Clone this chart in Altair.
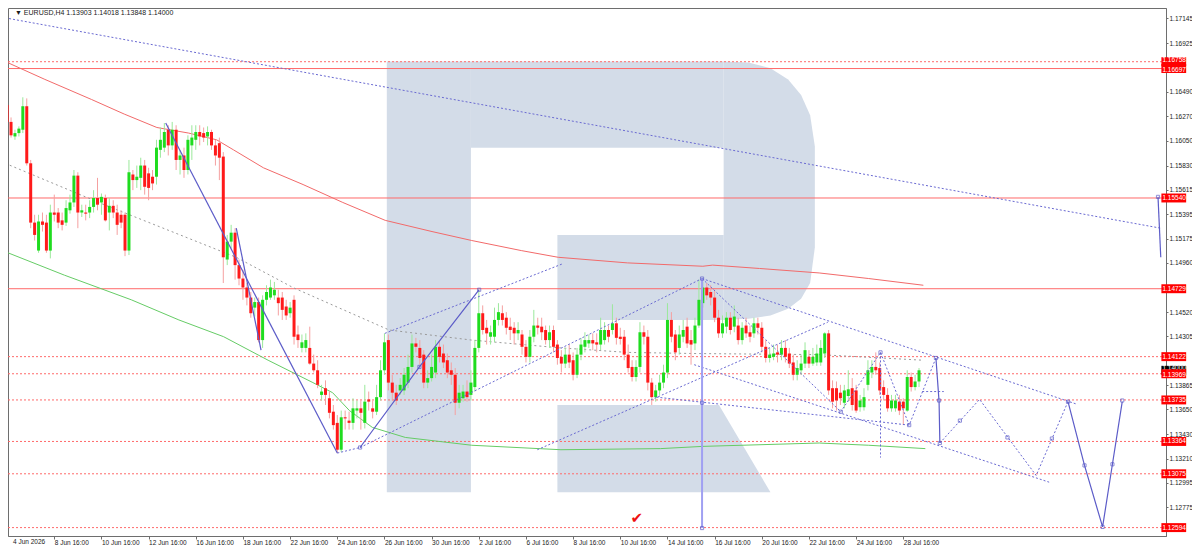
import json
import altair as alt
import pandas as pd

# header line and axis texts
HEADER = "\u25bc EURUSD,H4  1.13903 1.14018 1.13848 1.14000"
TIME_LABELS = ["4 Jun 2026", "8 Jun 16:00", "10 Jun 16:00", "12 Jun 16:00", "16 Jun 16:00",
               "18 Jun 16:00", "22 Jun 16:00", "24 Jun 16:00", "26 Jun 16:00", "30 Jun 16:00",
               "2 Jul 16:00", "6 Jul 16:00", "8 Jul 16:00", "10 Jul 16:00", "14 Jul 16:00",
               "16 Jul 16:00", "20 Jul 16:00", "22 Jul 16:00", "24 Jul 16:00", "28 Jul 16:00"]
PRICE_TICKS = [1.17145, 1.16925, 1.16490, 1.16270, 1.16050, 1.15830, 1.15615,
               1.15395, 1.15175, 1.14960, 1.14520, 1.14305, 1.13865,
               1.13650, 1.13430, 1.13210, 1.12995, 1.12775]

# H4 candles, prices in pips (1 pip = 0.0001)
OPEN_PIPS = [11637, 11622, 11609, 11612, 11615, 11636, 11585, 11532, 11507, 11533,
             11532, 11507, 11541, 11541, 11534, 11532, 11543, 11550, 11574, 11541,
             11541, 11541, 11546, 11554, 11550, 11554, 11541, 11547, 11541, 11539,
             11539, 11507, 11575, 11570, 11572, 11583, 11576, 11573, 11573, 11597,
             11599, 11615, 11601, 11615, 11588, 11592, 11579, 11601, 11606, 11613,
             11612, 11609, 11613, 11601, 11603, 11591, 11499, 11515, 11523, 11494,
             11482, 11474, 11465, 11456, 11461, 11427, 11463, 11465, 11467, 11465,
             11465, 11457, 11451, 11463, 11432, 11420, 11420, 11420, 11406, 11400,
             11378, 11384, 11375, 11363, 11353, 11329, 11358, 11355, 11353, 11364,
             11366, 11353, 11374, 11366, 11363, 11376, 11400, 11427, 11389, 11380,
             11382, 11382, 11389, 11403, 11424, 11420, 11414, 11389, 11393, 11398,
             11421, 11415, 11409, 11400, 11396, 11371, 11375, 11381, 11378, 11385,
             11420, 11451, 11438, 11430, 11430, 11445, 11451, 11447, 11439, 11438,
             11433, 11432, 11421, 11412, 11430, 11440, 11439, 11436, 11427, 11436,
             11423, 11412, 11406, 11414, 11409, 11396, 11414, 11421, 11424, 11427,
             11425, 11423, 11427, 11436, 11436, 11442, 11430, 11430, 11414, 11403,
             11394, 11403, 11434, 11430, 11389, 11376, 11382, 11389, 11398, 11445,
             11432, 11420, 11430, 11439, 11427, 11424, 11440, 11460, 11474, 11470,
             11465, 11447, 11433, 11439, 11447, 11439, 11440, 11427, 11440, 11434,
             11433, 11442, 11438, 11421, 11411, 11412, 11416, 11414, 11420, 11415,
             11407, 11396, 11400, 11406, 11412, 11406, 11407, 11407, 11415, 11433,
             11384, 11384, 11380, 11371, 11377, 11384, 11382, 11367, 11367, 11387,
             11398, 11403, 11402, 11385, 11378, 11366, 11366, 11372, 11372, 11364,
             11394, 11385, 11390]
HIGH_PIPS = [11642, 11626, 11615, 11618, 11644, 11643, 11588, 11539, 11539, 11541,
             11539, 11548, 11557, 11545, 11541, 11552, 11557, 11579, 11577, 11548,
             11548, 11552, 11561, 11572, 11558, 11557, 11554, 11552, 11548, 11543,
             11541, 11588, 11579, 11583, 11590, 11588, 11581, 11579, 11606, 11617,
             11621, 11619, 11622, 11619, 11597, 11599, 11610, 11619, 11619, 11619,
             11617, 11618, 11615, 11606, 11608, 11595, 11521, 11530, 11527, 11499,
             11490, 11478, 11470, 11465, 11465, 11467, 11476, 11481, 11479, 11472,
             11470, 11463, 11461, 11467, 11440, 11432, 11433, 11439, 11414, 11409,
             11387, 11391, 11381, 11369, 11360, 11364, 11364, 11363, 11375, 11373,
             11373, 11387, 11381, 11373, 11387, 11409, 11433, 11432, 11396, 11387,
             11393, 11402, 11414, 11432, 11429, 11427, 11418, 11400, 11414, 11427,
             11427, 11423, 11415, 11407, 11402, 11387, 11387, 11391, 11400, 11427,
             11472, 11458, 11445, 11440, 11456, 11460, 11458, 11452, 11447, 11443,
             11443, 11436, 11427, 11436, 11454, 11447, 11447, 11440, 11440, 11440,
             11427, 11418, 11420, 11423, 11416, 11420, 11429, 11434, 11432, 11433,
             11433, 11447, 11443, 11440, 11459, 11447, 11438, 11436, 11423, 11409,
             11409, 11443, 11440, 11436, 11393, 11387, 11396, 11405, 11460, 11452,
             11436, 11440, 11445, 11447, 11436, 11447, 11481, 11479, 11478, 11476,
             11472, 11454, 11449, 11452, 11452, 11458, 11447, 11443, 11447, 11440,
             11447, 11447, 11443, 11427, 11420, 11423, 11423, 11427, 11427, 11420,
             11414, 11409, 11414, 11425, 11418, 11420, 11423, 11427, 11434, 11436,
             11391, 11390, 11387, 11387, 11400, 11393, 11387, 11378, 11384, 11409,
             11409, 11416, 11407, 11391, 11384, 11378, 11378, 11378, 11375, 11400,
             11398, 11396, 11402]
LOW_PIPS = [11619, 11608, 11606, 11609, 11612, 11583, 11527, 11516, 11505, 11524,
            11505, 11500, 11533, 11527, 11525, 11529, 11540, 11546, 11527, 11537,
            11534, 11536, 11541, 11543, 11539, 11533, 11525, 11536, 11521, 11527,
            11502, 11503, 11561, 11563, 11561, 11557, 11552, 11561, 11566, 11590,
            11595, 11592, 11597, 11579, 11575, 11572, 11575, 11588, 11597, 11601,
            11604, 11601, 11597, 11583, 11570, 11478, 11494, 11509, 11481, 11476,
            11463, 11458, 11447, 11448, 11425, 11420, 11458, 11463, 11463, 11449,
            11445, 11445, 11447, 11423, 11420, 11416, 11416, 11405, 11398, 11384,
            11373, 11369, 11357, 11347, 11326, 11327, 11347, 11347, 11347, 11357,
            11347, 11348, 11364, 11357, 11360, 11373, 11396, 11382, 11373, 11369,
            11378, 11378, 11384, 11398, 11416, 11405, 11384, 11384, 11390, 11393,
            11407, 11402, 11393, 11387, 11360, 11366, 11372, 11372, 11373, 11381,
            11416, 11432, 11423, 11423, 11425, 11440, 11440, 11432, 11427, 11423,
            11427, 11414, 11407, 11407, 11425, 11432, 11427, 11423, 11420, 11416,
            11405, 11398, 11402, 11402, 11391, 11393, 11409, 11416, 11420, 11418,
            11416, 11418, 11423, 11425, 11432, 11423, 11423, 11409, 11398, 11390,
            11390, 11398, 11423, 11382, 11369, 11372, 11378, 11384, 11393, 11425,
            11409, 11414, 11425, 11420, 11405, 11418, 11438, 11456, 11463, 11458,
            11443, 11429, 11429, 11433, 11432, 11434, 11423, 11423, 11429, 11425,
            11429, 11432, 11416, 11407, 11407, 11409, 11407, 11409, 11407, 11402,
            11391, 11391, 11396, 11402, 11402, 11404, 11404, 11404, 11411, 11378,
            11366, 11364, 11369, 11366, 11372, 11364, 11362, 11363, 11364, 11382,
            11393, 11396, 11378, 11373, 11363, 11363, 11363, 11360, 11351, 11363,
            11381, 11382, 11385]
CLOSE_PIPS = [11622, 11610, 11612, 11616, 11636, 11585, 11532, 11521, 11533, 11530,
              11507, 11541, 11539, 11532, 11530, 11545, 11550, 11574, 11541, 11543,
              11540, 11546, 11554, 11548, 11555, 11534, 11547, 11541, 11530, 11532,
              11507, 11577, 11570, 11573, 11583, 11564, 11563, 11567, 11599, 11606,
              11613, 11601, 11615, 11588, 11592, 11579, 11606, 11608, 11613, 11609,
              11608, 11613, 11601, 11592, 11590, 11501, 11515, 11523, 11494, 11482,
              11474, 11465, 11451, 11461, 11427, 11463, 11470, 11474, 11472, 11460,
              11454, 11449, 11456, 11430, 11427, 11425, 11427, 11406, 11400, 11387,
              11381, 11378, 11362, 11351, 11329, 11358, 11357, 11353, 11366, 11366,
              11362, 11372, 11372, 11363, 11376, 11400, 11425, 11389, 11380, 11373,
              11387, 11396, 11403, 11424, 11421, 11411, 11389, 11393, 11403, 11421,
              11412, 11407, 11398, 11396, 11371, 11380, 11381, 11376, 11389, 11420,
              11451, 11436, 11433, 11434, 11445, 11452, 11445, 11438, 11436, 11433,
              11436, 11421, 11412, 11430, 11440, 11438, 11434, 11427, 11434, 11421,
              11411, 11406, 11414, 11407, 11396, 11414, 11423, 11427, 11427, 11424,
              11423, 11436, 11436, 11430, 11442, 11429, 11428, 11414, 11402, 11394,
              11403, 11434, 11430, 11389, 11376, 11382, 11389, 11398, 11445, 11430,
              11416, 11432, 11436, 11424, 11423, 11440, 11463, 11474, 11467, 11465,
              11447, 11433, 11442, 11447, 11436, 11448, 11427, 11438, 11433, 11430,
              11442, 11438, 11421, 11411, 11414, 11415, 11414, 11420, 11412, 11406,
              11396, 11402, 11406, 11418, 11406, 11412, 11415, 11420, 11433, 11382,
              11372, 11373, 11375, 11382, 11383, 11369, 11364, 11373, 11376, 11400,
              11403, 11400, 11382, 11378, 11366, 11373, 11373, 11364, 11366, 11394,
              11385, 11390, 11400]

# horizontal levels
SOLID_LEVELS = [1.16697, 1.15540, 1.14729]
DOTTED_LEVELS = [1.16758, 1.14122, 1.13969, 1.13735, 1.13364, 1.13075, 1.12594]
LAST_PRICE = 1.14000

# moving averages (bar index, pips)
MA_RED_BAR = [-0.5, 9.6, 21.5, 29.8, 38.1, 46.2, 53.3, 57.6, 65.2, 75.3, 85.4, 96.2,
              108.1, 118.2, 130.8, 140.2, 157.8, 177, 179.5, 191.4, 206.6, 219.2, 233.1]
MA_RED_PIPS = [11676, 11660, 11642, 11629, 11617, 11612, 11606, 11597, 11581, 11566, 11550,
               11534, 11524, 11516, 11507, 11501, 11496, 11493, 11494, 11491, 11487, 11482, 11476]
MA_GREEN_BAR = [-0.5, 14.6, 31.6, 43.7, 55.1, 66.4, 77.8, 82.8, 87.1, 92.9, 101.3, 118.2,
                140.9, 166.2, 177, 206.6, 219.2, 233.6]
MA_GREEN_PIPS = [11506, 11485, 11463, 11445, 11430, 11409, 11389, 11380, 11364, 11349, 11340,
                 11333, 11329, 11330, 11332, 11335, 11333, 11330]
MA_GREY_BAR = [-0.5, 24.7, 58.3, 72.7, 97.2, 118.2, 140.9, 157.8, 174.5, 206.6, 233.1]
MA_GREY_PIPS = [11585, 11548, 11501, 11474, 11436, 11427, 11420, 11416, 11415, 11414, 11409]

# wave drawings: lists of (bar, pips)
WAVE_SOLID = [
    [(40.35, 11621), (84.0, 11326)],
    [(58.3, 11527), (64.6, 11418)],
    [(89.8, 11331), (104.9, 11403), (120.1, 11472)],
    [(236.3, 11411), (237.1, 11372), (237.3, 11335)],
    [(269.9, 11372), (274.1, 11315), (278.7, 11260), (281.2, 11316), (283.7, 11372)],
    [(292.8, 11555), (293.5, 11501)],
]
WAVE_VERTICAL = [(176.8, 11482), (176.8, 11259)]
WAVE_DOTTED = [
    [(-0.5, 11715), (293.5, 11527)],
    [(84.0, 11326), (89.8, 11331)],
    [(96.1, 11433), (141.2, 11495)],
    [(89.8, 11331), (176.8, 11482)],
    [(134.9, 11329), (208.8, 11443)],
    [(176.8, 11482), (271.9, 11370)],
    [(176.8, 11482), (212.1, 11363), (222.2, 11416), (229.5, 11351), (236.3, 11411)],
    [(174.8, 11405), (265.1, 11300)],
    [(165.2, 11376), (229.5, 11351)],
    [(222.2, 11416), (222.2, 11322)],
    [(232.8, 11381), (238.3, 11381)],
    [(237.3, 11335), (247.4, 11374), (261.8, 11306), (269.9, 11372)],
]
MARKER_BAR = [89.8, 104.9, 120.1, 176.8, 176.8, 176.8, 212.1, 222.2, 229.5, 236.3, 237.1,
              237.3, 242.4, 254.5, 265.8, 269.9, 274.1, 278.7, 281.2, 283.7, 292.8]
MARKER_PIPS = [11331, 11403, 11472, 11482, 11371, 11259, 11363, 11416, 11351, 11411, 11373,
               11335, 11355, 11340, 11339, 11372, 11315, 11260, 11316, 11373, 11555]

# watermark "R" (bar index, pips)
LOGO_RECTS = [(96.6, 118.0, 11676, 11291), (118.0, 182.3, 11676, 11599),
              (140.0, 182.3, 11521, 11445)]
LOGO_BOWL_BAR = [182.3, 188.6, 194.2, 198.7, 202.0, 204.3, 205.5]
LOGO_BOWL_TOP = [11676, 11675, 11670, 11660, 11646, 11628, 11600]
LOGO_BOWL_BOT = [11445, 11446, 11449, 11455, 11464, 11478, 11510]
LOGO_LEG_BAR = [140.0, 181.1, 194.2]
LOGO_LEG_TOP = [11369, 11369, 11291]
LOGO_LEG_BOT = [11291, 11291, 11291]

CHECK_MARK = (160.2, 11268)

W, H = 1158, 528
FONT = "Liberation Sans"
X_LO, X_HI = 1.5, 293.56
Y_LO, Y_HI = 1.12519, 1.17238
XS = alt.Scale(domain=[X_LO, X_HI], nice=False, zero=False)
YS = alt.Scale(domain=[Y_LO, Y_HI], nice=False, zero=False)
BLUE = "#5c5cc8"
LEVEL_RED = "#ff6a6a"
LOGO = "#d3dce8"

X_AXIS = alt.Axis(values=list(range(12, 229, 12)),
                  labelExpr=json.dumps(TIME_LABELS) + "[round(datum.value / 12)]",
                  labelAlign="left", labelBaseline="top", labelPadding=0, tickSize=3,
                  grid=False, labelFlush=False, labelOverlap=False, title=None)
Y_AXIS = alt.Axis(orient="right", values=PRICE_TICKS, format=".5f", tickSize=2,
                  labelPadding=1, grid=False, labelFlush=False, labelOverlap=False, title=None)


def px(v):
    return v / 10000.0


def xq(field):
    return alt.X(field, type="quantitative", scale=XS, axis=X_AXIS)


def yq(field):
    return alt.Y(field, type="quantitative", scale=YS, axis=Y_AXIS)


def lines_df(segments):
    rows = []
    for s, seg in enumerate(segments):
        for k, (b, p) in enumerate(seg):
            rows.append({"seg": s, "k": k, "bar": b, "price": px(p)})
    return pd.DataFrame(rows)


layers = []

# watermark
logo_rects = pd.DataFrame([{"xa": a, "xb": b, "ya": px(c), "yb": px(d)} for a, b, c, d in LOGO_RECTS])
layers.append(alt.Chart(logo_rects).mark_rect(color=LOGO).encode(
    x=xq("xa"), x2="xb", y=yq("ya"), y2="yb"))
for bars, top, bot in [(LOGO_BOWL_BAR, LOGO_BOWL_TOP, LOGO_BOWL_BOT),
                       (LOGO_LEG_BAR, LOGO_LEG_TOP, LOGO_LEG_BOT)]:
    df = pd.DataFrame({"bar": bars, "top": [px(v) for v in top], "bot": [px(v) for v in bot]})
    layers.append(alt.Chart(df).mark_area(color=LOGO).encode(
        x=xq("bar"), y=yq("top"), y2="bot"))

# horizontal levels
layers.append(alt.Chart(pd.DataFrame({"p": SOLID_LEVELS})).mark_rule(
    color=LEVEL_RED, strokeWidth=1).encode(y=yq("p")))
layers.append(alt.Chart(pd.DataFrame({"p": DOTTED_LEVELS})).mark_rule(
    color=LEVEL_RED, strokeWidth=1, strokeDash=[2, 2]).encode(y=yq("p")))

# moving averages
for bars, pips, col, dash in [(MA_RED_BAR, MA_RED_PIPS, "#f26a6a", None),
                              (MA_GREEN_BAR, MA_GREEN_PIPS, "#66cc66", None),
                              (MA_GREY_BAR, MA_GREY_PIPS, "#9a9a9a", [2, 3])]:
    df = pd.DataFrame({"bar": bars, "price": [px(v) for v in pips]})
    kw = {"color": col, "strokeWidth": 1}
    if dash:
        kw["strokeDash"] = dash
    layers.append(alt.Chart(df).mark_line(**kw).encode(x=xq("bar"), y=yq("price")))

# candles
candles = pd.DataFrame({
    "bar": list(range(len(OPEN_PIPS))),
    "open": [px(v) for v in OPEN_PIPS],
    "high": [px(v) for v in HIGH_PIPS],
    "low": [px(v) for v in LOW_PIPS],
    "close": [px(v) for v in CLOSE_PIPS],
})
up = candles["close"] >= candles["open"]
candles["body"] = up.map({True: "#1fdc1f", False: "#ff1a1a"})
candles["wick"] = up.map({True: "#9be89b", False: "#f5a0a0"})

layers.append(alt.Chart(candles).mark_rule(strokeWidth=1).encode(
    x=xq("bar"), y=yq("low"), y2="high", color=alt.Color("wick:N", scale=None)))
layers.append(alt.Chart(candles).mark_bar(size=3).encode(
    x=xq("bar"), y=yq("open"), y2="close", color=alt.Color("body:N", scale=None)))

# wave drawings
layers.append(alt.Chart(lines_df(WAVE_DOTTED)).mark_line(
    color="#6a6ad2", strokeWidth=1, strokeDash=[2, 2]).encode(
    x=xq("bar"), y=yq("price"), detail="seg:N", order="k:Q"))
layers.append(alt.Chart(lines_df([WAVE_VERTICAL])).mark_line(
    color="#a0a0f2", strokeWidth=2).encode(x=xq("bar"), y=yq("price"), detail="seg:N", order="k:Q"))
layers.append(alt.Chart(lines_df(WAVE_SOLID)).mark_line(
    color=BLUE, strokeWidth=1.2).encode(x=xq("bar"), y=yq("price"), detail="seg:N", order="k:Q"))
markers = pd.DataFrame({"bar": MARKER_BAR, "price": [px(v) for v in MARKER_PIPS]})
layers.append(alt.Chart(markers).mark_point(
    shape="square", size=10, filled=False, color=BLUE, strokeWidth=1).encode(
    x=xq("bar"), y=yq("price")))

# check mark
check = pd.DataFrame({"bar": [CHECK_MARK[0]], "price": [px(CHECK_MARK[1])], "t": ["\u2714"]})
layers.append(alt.Chart(check).mark_text(color="#ee1111", fontSize=15, font="DejaVu Sans").encode(
    x=xq("bar"), y=yq("price"), text="t:N"))

# price tags on the right axis (black tag for the last price sits under the red ones)
tags = [(LAST_PRICE, "#000000", -2.5), (1.16758, "#ff0000", -1.5), (1.16697, "#ff0000", 1.5),
        (1.15540, "#ff0000", 0), (1.14729, "#ff0000", 0), (1.14122, "#ff0000", 0),
        (1.13969, "#ff0000", 1), (1.13735, "#ff0000", 0), (1.13364, "#ff0000", 0),
        (1.13075, "#ff0000", 0), (1.12594, "#ff0000", 0)]
half = 0.0004
tag_left = X_HI + 0.1
tag_right = X_HI + 6.4
for p, col, shift in tags:
    df = pd.DataFrame({"p": [p], "top": [p + half], "bot": [p - half], "t": [f"{p:.5f}"],
                       "xa": [tag_left], "xb": [tag_right]})
    layers.append(alt.Chart(df).mark_rect(color=col).encode(
        x=xq("xa"), x2="xb", y=yq("top"), y2="bot"))
    layers.append(alt.Chart(df).mark_text(
        color="white", fontSize=6.5, font=FONT, align="left", baseline="middle",
        dx=1, dy=shift).encode(x=xq("xa"), y=yq("p"), text="t:N"))

# header and first time label
head = pd.DataFrame({"bar": [X_LO], "price": [Y_HI], "t": [HEADER]})
layers.append(alt.Chart(head).mark_text(
    align="left", baseline="top", fontSize=7, font=FONT, color="#1a1a1a", dx=2, dy=1).encode(
    x=xq("bar"), y=yq("price"), text="t:N"))
first = pd.DataFrame({"bar": [X_LO], "price": [Y_LO], "t": [TIME_LABELS[0]]})
layers.append(alt.Chart(first).mark_text(
    align="left", baseline="top", fontSize=6.5, font=FONT, color="#1a1a1a", dy=3).encode(
    x=xq("bar"), y=yq("price"), text="t:N"))

chart = alt.layer(*layers).properties(
    width=W, height=H,
    padding={"left": 0, "top": 0, "right": 26, "bottom": 11},
    autosize=alt.AutoSizeParams(type="none"),
).configure_view(stroke="#6e6e6e", strokeWidth=1
).configure_axis(labelFont=FONT, labelFontSize=6.5, labelColor="#1a1a1a",
                 tickColor="#6e6e6e", domainColor="#6e6e6e")

chart.save("out.html", embed_options={"renderer": "svg", "actions": False})
